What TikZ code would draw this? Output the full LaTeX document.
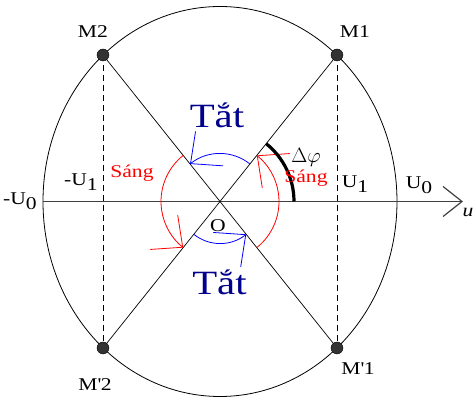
\documentclass[tikz,border=0pt]{standalone}
\usepackage{fontspec}
\setmainfont{Liberation Serif}[FakeStretch=1.2]
\usetikzlibrary{arrows.meta}
\definecolor{tatblue}{RGB}{0,0,140}
\newcommand{\lowidx}[1]{\raisebox{-0.5ex}{#1}}

\begin{document}
\begin{tikzpicture}[x=1pt,y=1pt,
    dot/.style={circle,draw=black,fill=black!80,minimum size=12pt,inner sep=0pt},
    lbl/.style={font=\fontsize{18}{20}\selectfont,inner sep=0pt},
    sang/.style={lbl,text=red},
    tat/.style={font=\fontsize{34}{36}\selectfont,text=tatblue,inner sep=0pt},
    barb/.style={-{Straight Barb[length=24pt,width=44pt]},line width=0.8pt}]
    \def\rx{177}
    \def\ry{195}
    \def\ang{51.4}
    \useasboundingbox (-220,-196.5) rectangle (255,201.5);

    % Titik pusat dan titik M pada elips
    \coordinate (O) at (0,0);
    \coordinate (M1) at (117,146.5);
    \coordinate (M2) at (-117,146.5);
    \coordinate (M1p) at (117,-146.5);
    \coordinate (M2p) at (-117,-146.5);
    \coordinate (uL) at (-\rx,0);
    \coordinate (uR) at (243,0);

    % Elips dan sumbu u
    \draw[line width=0.8pt] (O) ellipse[x radius=\rx, y radius=\ry];
    \draw[line width=1.2pt, black!75, -{Straight Barb[length=19pt,width=30pt]}] (uL) -- (uR);

    % Garis silang dan garis putus-putus
    \draw[line width=0.7pt] (M2) -- (M1p);
    \draw[line width=0.7pt] (M1) -- (M2p);
    \draw[line width=0.7pt, dash pattern=on 6pt off 4pt] (M2) -- (M2p);
    \draw[line width=0.7pt, dash pattern=on 6pt off 4pt] (M1) -- (M1p);

    % Titik hitam
    \foreach \p in {M1,M2,M1p,M2p} {
        \node[dot] (\p dot) at (\p) {};
    }

    % Busur merah (Sang) dan biru (Tat)
    \draw[barb, red] ([shift={(-\ang:59)}]O) arc[start angle=-\ang, end angle=\ang, radius=59];
    \draw[barb, red] ([shift={(180-\ang:59)}]O) arc[start angle=180-\ang, end angle=180+\ang, radius=59];
    \draw[barb, blue] ([shift={(\ang:48)}]O) arc[start angle=\ang, end angle=180-\ang, radius=48];
    \draw[barb, blue] ([shift={(180+\ang:42)}]O) arc[start angle=180+\ang, end angle=360-\ang, radius=42];

    % Busur tebal delta phi
    \draw[line width=3.2pt] ([shift={(0:74)}]O) arc[start angle=0, end angle=\ang, radius=74];

    % Label
    \node[lbl] (lblM1) at (135,169.5) {M1};
    \node[lbl] (lblM2) at (-127,169.5) {M2};
    \node[lbl] (lblM1p) at (138,-167.5) {M\textquotesingle 1};
    \node[lbl] (lblM2p) at (-125,-183.5) {M\textquotesingle 2};
    \node[lbl, anchor=base] (lblnU0) at (-200,-3.5) {-U\lowidx{0}};
    \node[lbl, anchor=base] (lblnU1) at (-139,15.5) {-U\lowidx{1}};
    \node[lbl, anchor=base] (lblU1) at (135,13.5) {U\lowidx{1}};
    \node[lbl, anchor=base] (lblU0) at (199,12.5) {U\lowidx{0}};
    \node[lbl, anchor=base] (lblu) at (248,-15.5) {\itshape u};
    \node[lbl, anchor=base] (lblO) at (-2,-30.5) {O};
    \node[lbl, anchor=base] (lbldphi) at (86,38.5) {\fontsize{20}{22}\selectfont$\Delta\varphi$};
    \node[sang, anchor=base] (sangL) at (-88,23.5) {Sáng};
    \node[sang, anchor=base] (sangR) at (86,18.5) {Sáng};
    \node[tat, anchor=base] (tatT) at (-3,73.5) {Tắt};
    \node[tat, anchor=base] (tatB) at (-0.5,-93.5) {Tắt};
\end{tikzpicture}
\end{document}
